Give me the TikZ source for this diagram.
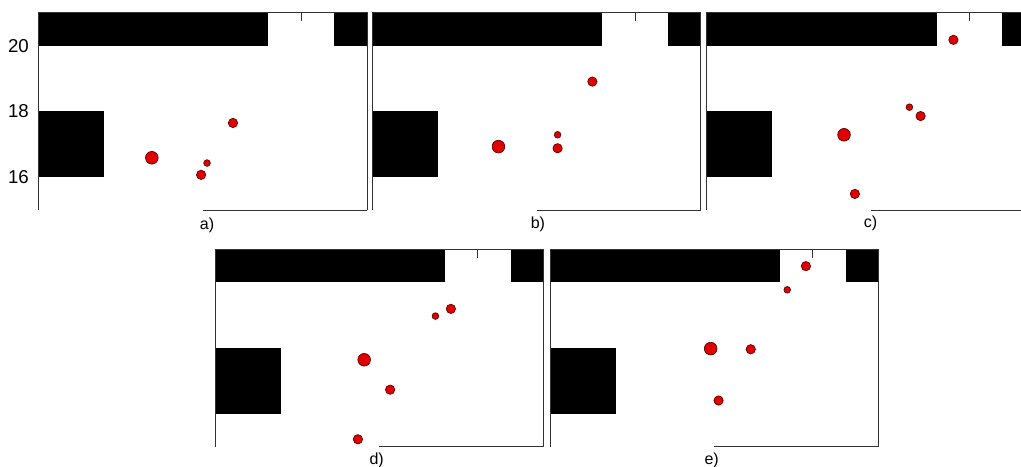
\documentclass[tikz,border=0pt]{standalone}
\usepackage{fontspec}
\setmainfont{Liberation Sans}
\definecolor{dotred}{HTML}{E00000}
\definecolor{dotedge}{HTML}{5A0000}

% room map: walls, frame and door tick, in metres (x 0..10, y 15..21)
\newcommand{\roommap}{%
  \fill[wall] (0,20) rectangle (7,21);
  \fill[wall] (9,20) rectangle (10,21);
  \fill[wall] (0,16) rectangle (2,18);
  \draw[frame] (0,15) -- (0,21) -- (10,21) -- (10,15);
  \draw[frame] (5,15) -- (10,15);
  \draw[frame] (8,21) -- (8,20.75);
}

\begin{document}
\begin{tikzpicture}[
  x=24.6375pt, y=24.6375pt,
  wall/.style={fill=black},
  frame/.style={draw=black!80, line width=0.75pt},
  bigdot/.style={circle, fill=dotred, draw=dotedge, line width=0.5pt,
                 minimum size=9.5pt, inner sep=0pt},
  middot/.style={bigdot, minimum size=7pt},
  smalldot/.style={bigdot, minimum size=5pt},
  ticklab/.style={anchor=east, font=\fontsize{14}{14}\selectfont},
  caption/.style={font=\fontsize{12}{12}\selectfont},
]
\useasboundingbox (0,0) rectangle (31.08,14.186);
\clip (0,0) rectangle (31.08,14.186);
% a)
\begin{scope}[shift={(1.172,-7.207)}]
  \roommap
  \foreach \y in {16,18,20}
    \node[ticklab] (tick-\y) at (-0.15,\y) {\y};
  \foreach \n/\x/\y/\s in {
    1/3.45/16.59/bigdot,
    2/4.95/16.07/middot,
    3/5.13/16.43/smalldot,
    4/5.92/17.65/middot%
  }
    \node[\s] (a-\n) at (\x,\y) {};
  \node[caption] (lab-a) at (5.13,14.52) {a)};
\end{scope}
% b)
\begin{scope}[shift={(11.333,-7.207)}]
  \roommap
  \foreach \n/\x/\y/\s in {
    1/3.84/16.93/bigdot,
    2/5.64/16.88/middot,
    3/5.64/17.29/smalldot,
    4/6.70/18.91/middot%
  }
    \node[\s] (b-\n) at (\x,\y) {};
  \node[caption] (lab-b) at (5.04,14.55) {b)};
\end{scope}
% c)
\begin{scope}[shift={(21.513,-7.207)}]
  \roommap
  \foreach \n/\x/\y/\s in {
    1/7.51/20.18/middot,
    2/6.17/18.13/smalldot,
    3/6.51/17.86/middot,
    4/4.18/17.29/bigdot,
    5/4.51/15.49/middot%
  }
    \node[\s] (c-\n) at (\x,\y) {};
  \node[caption] (lab-c) at (4.99,14.60) {c)};
\end{scope}
% d)
\begin{scope}[shift={(6.545,-14.406)}]
  \roommap
  \foreach \n/\x/\y/\s in {
    1/7.18/19.19/middot,
    2/6.71/18.97/smalldot,
    3/4.54/17.64/bigdot,
    4/5.33/16.73/middot,
    5/4.35/15.22/middot%
  }
    \node[\s] (d-\n) at (\x,\y) {};
  \node[caption] (lab-d) at (4.92,14.58) {d)};
\end{scope}
% e)
\begin{scope}[shift={(16.743,-14.406)}]
  \roommap
  \foreach \n/\x/\y/\s in {
    1/7.79/20.49/middot,
    2/7.22/19.77/smalldot,
    3/4.89/17.98/bigdot,
    4/6.11/17.96/middot,
    5/5.13/16.40/middot%
  }
    \node[\s] (e-\n) at (\x,\y) {};
  \node[caption] (lab-e) at (4.92,14.58) {e)};
\end{scope}
\end{tikzpicture}
\end{document}
